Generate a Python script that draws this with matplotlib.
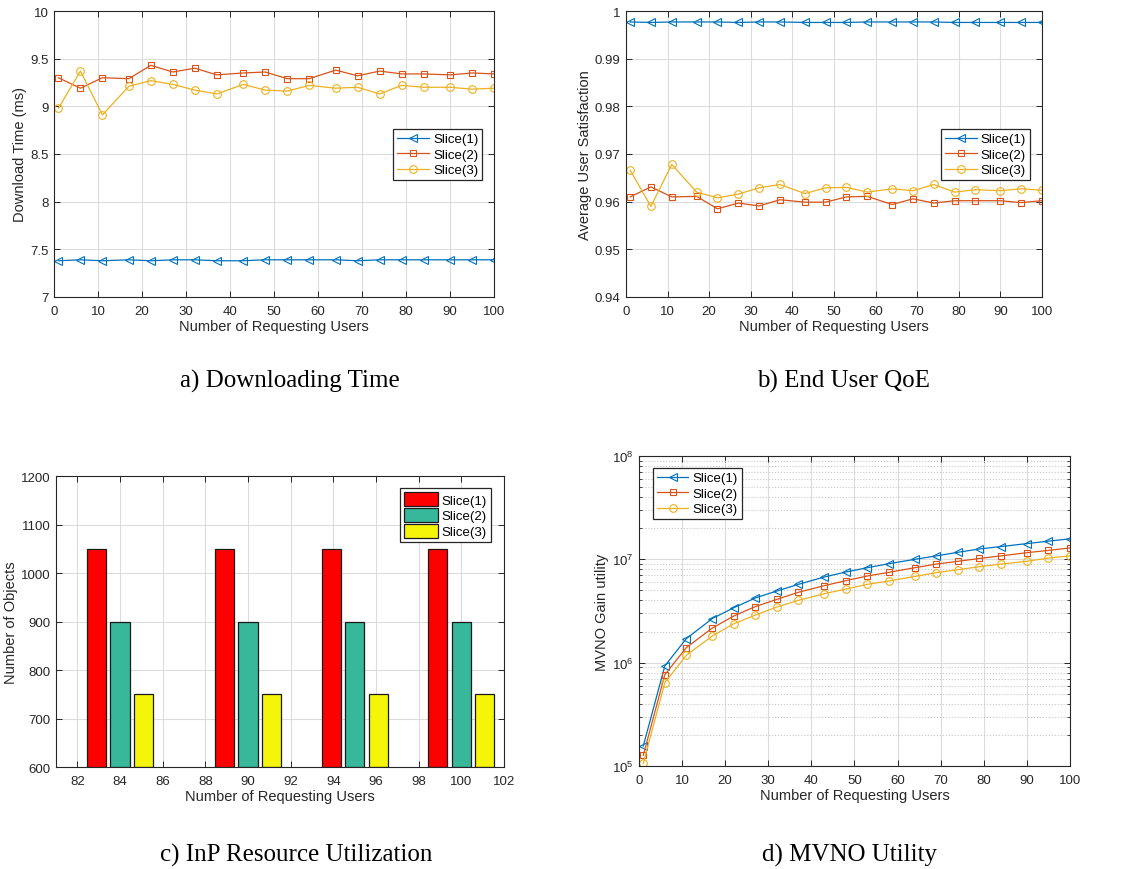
import matplotlib
matplotlib.use("Agg")
import matplotlib.pyplot as plt
import numpy as np

# ---- data -------------------------------------------------------------
users = [1, 6, 11, 17, 22, 27, 32, 37, 43, 48, 53, 58, 64, 69, 74, 79, 84, 90, 95, 100]

dl_slice1 = [7.38, 7.39, 7.38, 7.39, 7.38, 7.39, 7.39, 7.38, 7.38, 7.39,
             7.39, 7.39, 7.39, 7.38, 7.39, 7.39, 7.39, 7.39, 7.39, 7.39]
dl_slice2 = [9.30, 9.19, 9.30, 9.29, 9.43, 9.36, 9.40, 9.33, 9.35, 9.36,
             9.29, 9.29, 9.38, 9.32, 9.37, 9.34, 9.34, 9.33, 9.35, 9.34]
dl_slice3 = [8.98, 9.37, 8.91, 9.21, 9.27, 9.23, 9.17, 9.13, 9.23, 9.17,
             9.16, 9.22, 9.19, 9.20, 9.13, 9.22, 9.20, 9.20, 9.18, 9.19]

qoe_slice1 = [0.9977, 0.9976, 0.9977, 0.9977, 0.9977, 0.9976, 0.9977, 0.9977, 0.9976, 0.9976,
              0.9976, 0.9977, 0.9977, 0.9977, 0.9977, 0.9976, 0.9976, 0.9976, 0.9976, 0.9976]
qoe_slice2 = [0.9610, 0.9631, 0.9610, 0.9611, 0.9585, 0.9597, 0.9591, 0.9604, 0.9599, 0.9599,
              0.9610, 0.9611, 0.9594, 0.9606, 0.9597, 0.9602, 0.9602, 0.9602, 0.9598, 0.9602]
qoe_slice3 = [0.9666, 0.9590, 0.9678, 0.9620, 0.9608, 0.9616, 0.9629, 0.9636, 0.9617, 0.9629,
              0.9630, 0.9620, 0.9627, 0.9623, 0.9636, 0.9620, 0.9625, 0.9623, 0.9627, 0.9624]

bar_users = [84, 90, 95, 100]
obj_slice1 = [1050, 1050, 1050, 1050]
obj_slice2 = [900, 900, 900, 900]
obj_slice3 = [750, 750, 750, 750]

gain_slice1 = [1.56e5, 9.3e5, 1.71e6, 2.67e6, 3.40e6, 4.23e6, 4.94e6, 5.73e6, 6.75e6, 7.54e6,
               8.30e6, 9.08e6, 1.00e7, 1.08e7, 1.17e7, 1.26e7, 1.33e7, 1.42e7, 1.50e7, 1.58e7]
gain_slice2 = [1.27e5, 7.66e5, 1.40e6, 2.16e6, 2.83e6, 3.49e6, 4.10e6, 4.80e6, 5.56e6, 6.22e6,
               6.90e6, 7.49e6, 8.30e6, 9.00e6, 9.57e6, 1.02e7, 1.08e7, 1.16e7, 1.22e7, 1.29e7]
gain_slice3 = [1.06e5, 6.40e5, 1.18e6, 1.81e6, 2.38e6, 2.89e6, 3.46e6, 4.01e6, 4.65e6, 5.16e6,
               5.73e6, 6.17e6, 6.84e6, 7.43e6, 7.94e6, 8.49e6, 9.00e6, 9.57e6, 1.03e7, 1.08e7]

labels = ["Slice(1)", "Slice(2)", "Slice(3)"]

# ---- style ------------------------------------------------------------
plt.rcParams["font.family"] = ["Liberation Sans", "DejaVu Sans"]
AX_COL = "#262626"
LINE_COLS = ["#0072BD", "#D95319", "#EDB120"]
MARKERS = ["<", "s", "o"]
MSIZES = [6, 5, 5.5]
BAR_COLS = ["#FF0000", "#37B89A", "#F5F50A"]
FS = 9.5


def style_axes(ax):
    for sp in ax.spines.values():
        sp.set_color(AX_COL)
        sp.set_linewidth(0.8)
    ax.tick_params(direction="in", top=True, right=True, colors=AX_COL,
                   labelsize=FS, length=4, width=0.7)
    ax.tick_params(axis="x", pad=6)
    ax.tick_params(axis="y", pad=4)
    ax.grid(True, color="#DCDCDC", linewidth=0.8)
    ax.set_axisbelow(True)


def legend(ax, **kw):
    opts = dict(fontsize=FS, fancybox=False, framealpha=1, edgecolor=AX_COL,
                handlelength=2.4, borderpad=0.3, labelspacing=0.25,
                handletextpad=0.3, borderaxespad=0)
    opts.update(kw)
    lg = ax.legend(**opts)
    lg.get_frame().set_linewidth(0.9)
    return lg


def line_panel(ax, series):
    for vals, col, mk, ms, lab in zip(series, LINE_COLS, MARKERS, MSIZES, labels):
        ax.plot(users, vals, color=col, marker=mk, markersize=ms,
                markerfacecolor="none", markeredgewidth=0.8, linewidth=0.9, label=lab)
    ax.set_xlim(0, 100)
    ax.set_xticks(range(0, 101, 10))
    ax.set_xlabel("Number of Requesting Users", fontsize=FS + 1, color=AX_COL, labelpad=1)


fig = plt.figure(figsize=(11.21, 8.7), dpi=100)

# a) download time
ax_a = fig.add_axes([0.0482, 0.6575, 0.3925, 0.3287])
style_axes(ax_a)
line_panel(ax_a, [dl_slice1, dl_slice2, dl_slice3])
ax_a.set_ylim(7, 10)
ax_a.set_yticks(np.arange(7, 10.01, 0.5))
ax_a.set_yticklabels(["7", "7.5", "8", "8.5", "9", "9.5", "10"])
ax_a.set_ylabel("Download Time (ms)", fontsize=FS + 1, color=AX_COL, labelpad=2)
legend(ax_a, loc="upper right", bbox_to_anchor=(0.973, 0.587))

# b) QoE
ax_b = fig.add_axes([0.5584, 0.6575, 0.3711, 0.3287])
style_axes(ax_b)
line_panel(ax_b, [qoe_slice1, qoe_slice2, qoe_slice3])
ax_b.set_ylim(0.94, 1.0)
ax_b.set_yticks(np.arange(0.94, 1.001, 0.01))
ax_b.set_yticklabels(["0.94", "0.95", "0.96", "0.97", "0.98", "0.99", "1"])
ax_b.set_ylabel("Average User Satisfaction", fontsize=FS + 1, color=AX_COL, labelpad=2)
legend(ax_b, loc="upper right", bbox_to_anchor=(0.971, 0.587))

# c) resource utilization bars
ax_c = fig.add_axes([0.0500, 0.1172, 0.3996, 0.3345])
style_axes(ax_c)
x = np.array(bar_users, dtype=float)
offset, width = 1.1, 0.9
for k, (vals, col, lab) in enumerate(zip([obj_slice1, obj_slice2, obj_slice3], BAR_COLS, labels)):
    ax_c.bar(x + (k - 1) * offset, np.array(vals) - 600, bottom=600, width=width,
             color=col, edgecolor="#1a1a1a", linewidth=0.9, label=lab)
ax_c.set_xlim(81, 102)
ax_c.set_xticks(range(82, 103, 2))
ax_c.set_ylim(600, 1200)
ax_c.set_yticks(range(600, 1201, 100))
ax_c.set_xlabel("Number of Requesting Users", fontsize=FS + 1, color=AX_COL, labelpad=1)
ax_c.set_ylabel("Number of Objects", fontsize=FS + 1, color=AX_COL, labelpad=2)
legend(ax_c, loc="upper right", bbox_to_anchor=(0.971, 0.959),
       handlelength=2.6, handleheight=1.3, labelspacing=0.1)

# d) MVNO utility (log scale)
ax_d = fig.add_axes([0.5700, 0.1184, 0.3845, 0.3563])
ax_d.set_yscale("log")
style_axes(ax_d)
ax_d.grid(True, which="minor", axis="y", color="#C8C8C8", linestyle=":", linewidth=0.8)
ax_d.tick_params(which="minor", direction="in", right=True, length=2, colors=AX_COL)
line_panel(ax_d, [gain_slice1, gain_slice2, gain_slice3])
ax_d.set_ylim(1e5, 1e8)
ax_d.set_ylabel("MVNO Gain utility", fontsize=FS + 1, color=AX_COL, labelpad=2)
legend(ax_d, loc="upper left", bbox_to_anchor=(0.032, 0.961))

# captions
cap = dict(fontsize=18, family=["Liberation Serif", "DejaVu Serif"], ha="center", va="center")
fig.text(0.2587, 0.562, "a) Downloading Time", **cap)
fig.text(0.752, 0.562, "b) End User QoE", **cap)
fig.text(0.264, 0.017, "c) InP Resource Utilization", **cap)
fig.text(0.758, 0.017, "d) MVNO Utility", **cap)

fig.savefig("out.png", dpi=100, facecolor="white")
